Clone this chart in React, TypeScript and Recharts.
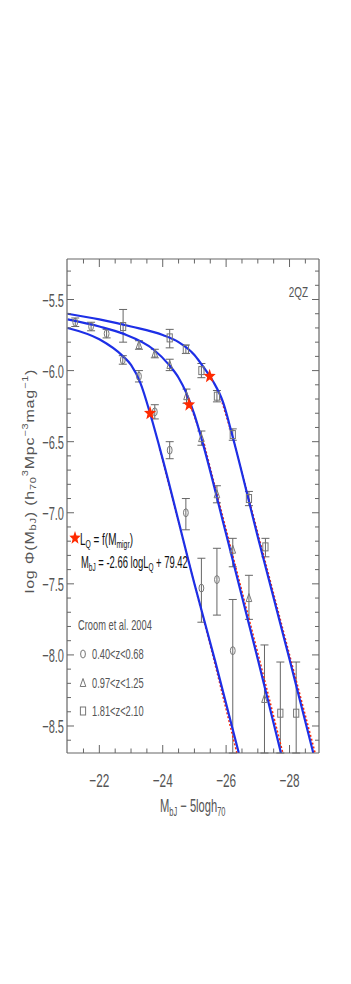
import React from "react";
import { LineChart, Line, Scatter, ErrorBar, XAxis, YAxis } from "recharts";

// model curves: [M_bJ, log phi]
const fitLow: [number, number][] = [
  [-21.0, -5.70], [-22.0, -5.78], [-22.75, -5.90], [-23.0, -5.96], [-23.3, -6.09],
  [-23.6, -6.30], [-23.9, -6.54], [-25.0, -7.50], [-25.65, -8.04], [-26.4, -8.69],
];
const fitMid: [number, number][] = [
  [-21.0, -5.64], [-22.0, -5.69], [-22.75, -5.74], [-23.7, -5.85], [-24.2, -5.96],
  [-24.5, -6.05], [-24.75, -6.16], [-25.0, -6.31], [-25.25, -6.50], [-26.0, -7.15],
  [-27.0, -8.03], [-27.73, -8.69],
];
const fitHigh: [number, number][] = [
  [-21.0, -5.60], [-22.0, -5.64], [-23.0, -5.69], [-24.0, -5.75], [-24.5, -5.80],
  [-25.0, -5.89], [-25.3, -5.98], [-25.6, -6.08], [-25.9, -6.22], [-26.2, -6.46],
  [-27.0, -7.17], [-28.0, -8.03], [-28.75, -8.69],
];
// red dotted model underneath (only shows where it parts from the blue one)
const altLow: [number, number][] = [[-23.9, -6.55], [-25.6, -8.02], [-26.35, -8.70]];
const altMid: [number, number][] = [[-24.75, -6.17], [-25.3, -6.51], [-27.06, -8.04], [-27.8, -8.70]];
const altHigh: [number, number][] = [[-25.8, -6.17], [-26.25, -6.50], [-28.06, -8.05], [-28.82, -8.70]];

// Croom et al. 2004 points: [M, log phi, err down, err up]
const zLow: [number, number, number, number][] = [
  [-21.24, -5.66, 0.03, 0.03], [-21.74, -5.69, 0.03, 0.03], [-22.23, -5.74, 0.03, 0.03],
  [-22.74, -5.925, 0.03, 0.03], [-23.25, -6.04, 0.04, 0.04], [-23.75, -6.29, 0.05, 0.05],
  [-24.22, -6.56, 0.06, 0.06], [-24.73, -7.0, 0.12, 0.1], [-25.22, -7.53, 0.24, 0.21],
  [-25.71, -7.47, 0.25, 0.22], [-26.21, -7.97, 0.72, 0.36],
];
const zMid: [number, number, number, number][] = [
  [-23.25, -5.82, 0.03, 0.03], [-23.75, -5.88, 0.03, 0.03], [-24.22, -5.96, 0.04, 0.04],
  [-24.75, -6.18, 0.05, 0.05], [-25.22, -6.475, 0.05, 0.05], [-25.71, -6.87, 0.06, 0.06],
  [-26.21, -7.26, 0.12, 0.08], [-26.72, -7.6, 0.15, 0.16], [-27.21, -8.31, 0.38, 0.38],
];
const zHigh: [number, number, number, number][] = [
  [-22.75, -5.69, 0.11, 0.12], [-24.22, -5.77, 0.07, 0.06], [-24.73, -5.85, 0.03, 0.03],
  [-25.22, -6.0, 0.05, 0.05], [-25.71, -6.18, 0.04, 0.04], [-26.21, -6.45, 0.04, 0.04],
  [-26.72, -6.9, 0.05, 0.05], [-27.24, -7.24, 0.07, 0.06], [-27.71, -8.41, 0.28, 0.36],
  [-28.21, -8.41, 0.28, 0.36],
];
// L_Q = f(M_migr) markers
const starM = [-23.6, -24.83, -25.48];
const starPhi = [-6.30, -6.24, -6.04];

const xMajor = [-22, -24, -26, -28];
const yMajor = [-8.5, -8.0, -7.5, -7.0, -6.5, -6.0, -5.5];
const xTicks = [-21.5, -22, -22.5, -23, -23.5, -24, -24.5, -25, -25.5, -26, -26.5, -27, -27.5, -28, -28.5];
const yTicks = Array.from({ length: 34 }, (_, i) => +(-8.6 + i * 0.1).toFixed(1));

const BLUE = "#1d2fe6";
const RED = "#ff2a00";
const INK = "#555";
const FRAME = "#666";
const PT = "#777";
const FONT = "'Liberation Sans', Arial, sans-serif";

const pts = (a: [number, number][]) => a.map(([m, v]) => ({ m, v }));
const errPts = (a: [number, number, number, number][]) => a.map(([m, v, lo, hi]) => ({ m, v, e: [lo, hi] }));
const stars = starM.map((m, i) => ({ m, v: starPhi[i] }));

const fmt = (v: number) => (v < 0 ? "\u2212" : "") + Math.abs(v).toFixed(Number.isInteger(v) && Math.abs(v) > 10 ? 0 : 1);
const isYMajor = (v: number) => yMajor.some((t) => Math.abs(t - v) < 1e-6);

// squeezed text, like the original plot
const T = ({ x, y, sx = 0.62, size = 14, fill = INK, anchor = "start", weight = 400, children }: any) => (
  <g transform={`translate(${x},${y}) scale(${sx},1)`}>
    <text x={0} y={0} textAnchor={anchor} fontSize={size} fill={fill} fontWeight={weight} fontFamily={FONT}>
      {children}
    </text>
  </g>
);

const BottomTick = ({ x, y, payload }: any) => {
  const major = xMajor.includes(payload.value);
  return (
    <g>
      <line x1={x} x2={x} y1={y} y2={y - (major ? 8 : 4.5)} stroke={FRAME} />
      {major && <T x={x} y={y + 34} size={19} anchor="middle">{fmt(payload.value)}</T>}
    </g>
  );
};
const TopTick = ({ x, y, payload }: any) => (
  <line x1={x} x2={x} y1={y} y2={y + (xMajor.includes(payload.value) ? 8 : 4.5)} stroke={FRAME} />
);
const LeftTick = ({ x, y, payload }: any) => {
  const major = isYMajor(payload.value);
  return (
    <g>
      <line x1={x} x2={x + (major ? 7 : 4)} y1={y} y2={y} stroke={FRAME} />
      {major && <T x={x - 3} y={y + 7} size={19} anchor="end" sx={0.58}>{fmt(payload.value)}</T>}
    </g>
  );
};
const RightTick = ({ x, y, payload }: any) => (
  <line x1={x} x2={x - (isYMajor(payload.value) ? 7 : 4)} y1={y} y2={y} stroke={FRAME} />
);

const Circ = (p: any) => <ellipse cx={p.cx} cy={p.cy} rx={2.4} ry={4} fill="none" stroke={PT} strokeWidth={1} />;
const Tri = (p: any) => (
  <polygon points={`${p.cx},${p.cy - 4.5} ${p.cx - 2.8},${p.cy + 3.5} ${p.cx + 2.8},${p.cy + 3.5}`} fill="none" stroke={PT} strokeWidth={1} />
);
const Box = (p: any) => <rect x={p.cx - 2.6} y={p.cy - 4} width={5.2} height={8} fill="none" stroke={PT} strokeWidth={1} />;
const starPath = (cx: number, cy: number, r: number, sx = 0.85) => {
  const out: string[] = [];
  for (let i = 0; i < 10; i++) {
    const a = -Math.PI / 2 + (i * Math.PI) / 5;
    const rr = i % 2 ? r * 0.42 : r;
    out.push(`${cx + Math.cos(a) * rr * sx},${cy + Math.sin(a) * rr}`);
  }
  return out.join(" ");
};
const Star = (p: any) => <polygon points={starPath(p.cx, p.cy, 7.5)} fill={RED} />;

export default function App() {
  return (
    <div style={{ position: "absolute", left: 0, top: 0, width: 351, height: 984, background: "#fff" }}>
      <LineChart width={351} height={984} margin={{ top: 249, right: 22, bottom: 191, left: 7 }}>
        <XAxis
          type="number" dataKey="m" domain={[-28.93, -20.98]} reversed allowDataOverflow
          ticks={xTicks} interval={0} tickSize={0} tickMargin={0} height={40}
          stroke={FRAME} strokeWidth={1.2} tick={BottomTick}
        />
        <XAxis
          xAxisId="top" orientation="top" type="number" dataKey="m" domain={[-28.93, -20.98]} reversed allowDataOverflow
          ticks={xTicks} interval={0} tickSize={0} tickMargin={0} height={10}
          stroke={FRAME} strokeWidth={1.2} tick={TopTick}
        />
        <YAxis
          type="number" dataKey="v" domain={[-8.69, -5.215]} allowDataOverflow
          ticks={yTicks} interval={0} tickSize={0} tickMargin={0} width={60}
          stroke={FRAME} strokeWidth={1.2} tick={LeftTick}
        />
        <YAxis
          yAxisId="right" orientation="right" type="number" dataKey="v" domain={[-8.69, -5.215]} allowDataOverflow
          ticks={yTicks} interval={0} tickSize={0} tickMargin={0} width={10}
          stroke={FRAME} strokeWidth={1.2} tick={RightTick}
        />

        <Scatter data={errPts(zLow)} dataKey="v" shape={Circ} isAnimationActive={false}>
          <ErrorBar dataKey="e" direction="y" width={4} stroke="#666" strokeWidth={1} />
        </Scatter>
        <Scatter data={errPts(zMid)} dataKey="v" shape={Tri} isAnimationActive={false}>
          <ErrorBar dataKey="e" direction="y" width={4} stroke="#666" strokeWidth={1} />
        </Scatter>
        <Scatter data={errPts(zHigh)} dataKey="v" shape={Box} isAnimationActive={false}>
          <ErrorBar dataKey="e" direction="y" width={4} stroke="#666" strokeWidth={1} />
        </Scatter>

        <Line data={pts(altLow)} dataKey="v" type="linear" stroke={RED} strokeWidth={1.5} strokeDasharray="2 2" dot={false} isAnimationActive={false} />
        <Line data={pts(altMid)} dataKey="v" type="linear" stroke={RED} strokeWidth={1.5} strokeDasharray="2 2" dot={false} isAnimationActive={false} />
        <Line data={pts(altHigh)} dataKey="v" type="linear" stroke={RED} strokeWidth={1.5} strokeDasharray="2 2" dot={false} isAnimationActive={false} />
        <Line data={pts(fitLow)} dataKey="v" type="monotone" stroke={BLUE} strokeWidth={2.2} dot={false} isAnimationActive={false} />
        <Line data={pts(fitMid)} dataKey="v" type="monotone" stroke={BLUE} strokeWidth={2.2} dot={false} isAnimationActive={false} />
        <Line data={pts(fitHigh)} dataKey="v" type="monotone" stroke={BLUE} strokeWidth={2.2} dot={false} isAnimationActive={false} />

        <Scatter data={stars} dataKey="v" shape={Star} isAnimationActive={false} />
      </LineChart>

      <svg width={351} height={984} style={{ position: "absolute", left: 0, top: 0, pointerEvents: "none" }}>
        <T x={308} y={297} size={15} anchor="end" sx={0.66}>2QZ</T>

        <polygon points={starPath(75, 538, 7)} fill={RED} />
        <T x={80} y={545} size={16} fill="#111" sx={0.62}>
          L<tspan dy={3} fontSize={11}>Q</tspan><tspan dy={-3}> = f(M</tspan><tspan dy={3} fontSize={11}>migr</tspan><tspan dy={-3}>)</tspan>
        </T>
        <T x={81} y={568} size={16} fill="#111" sx={0.59}>
          M<tspan dy={3} fontSize={11}>bJ</tspan><tspan dy={-3}> = -2.66 logL</tspan><tspan dy={3} fontSize={11}>Q</tspan><tspan dy={-3}> + 79.42</tspan>
        </T>

        <T x={78} y={630} size={15} sx={0.62}>Croom et al. 2004</T>
        <ellipse cx={83} cy={654} rx={2.4} ry={4} fill="none" stroke={PT} />
        <T x={92} y={659} size={15} sx={0.62}>0.40&lt;z&lt;0.68</T>
        <polygon points={`83,678.5 80.2,686.5 85.8,686.5`} fill="none" stroke={PT} />
        <T x={92} y={688} size={15} sx={0.62}>0.97&lt;z&lt;1.25</T>
        <rect x={80.4} y={707} width={5.2} height={8} fill="none" stroke={PT} />
        <T x={92} y={716} size={15} sx={0.62}>1.81&lt;z&lt;2.10</T>

        <T x={160} y={812} size={18} sx={0.62}>
          M<tspan dy={4} fontSize={12}>bJ</tspan><tspan dy={-4}> {"\u2212"} 5logh</tspan><tspan dy={4} fontSize={12}>70</tspan>
        </T>

        <g transform="translate(34,481) scale(0.8,1) rotate(-90)">
          <text x={0} y={0} textAnchor="middle" fontSize={16} fill={INK} fontFamily={FONT} letterSpacing={0.8}>
            log  {"\u03A6"}(M<tspan dy={3} fontSize={11}>bJ</tspan><tspan dy={-3}>)  (h</tspan>
            <tspan dy={3} fontSize={11}>70</tspan><tspan dy={-10} fontSize={11}>3</tspan>
            <tspan dy={7}>Mpc</tspan><tspan dy={-7} fontSize={11}>{"\u2212"}3</tspan>
            <tspan dy={7}>mag</tspan><tspan dy={-7} fontSize={11}>{"\u2212"}1</tspan><tspan dy={7}>)</tspan>
          </text>
        </g>
      </svg>
    </div>
  );
}
